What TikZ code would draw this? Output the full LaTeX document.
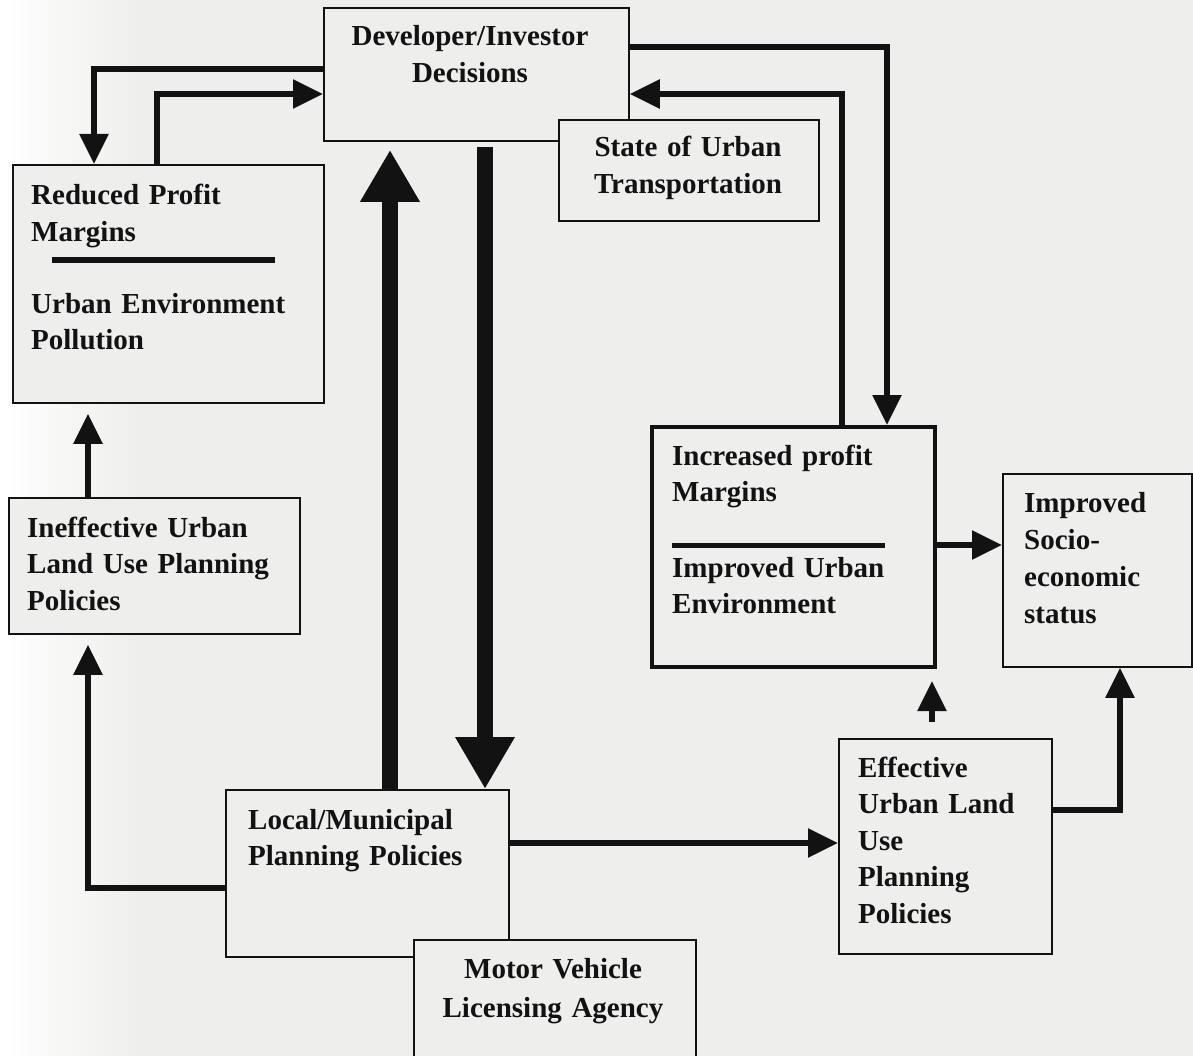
\documentclass[tikz,border=0pt]{standalone}
\usepackage{fontspec}
\setmainfont{Liberation Serif}
\usetikzlibrary{arrows.meta}
\definecolor{bgc}{RGB}{238,238,236}
\definecolor{ink}{RGB}{18,18,18}
\begin{document}
\begin{tikzpicture}[x=1pt,y=-1pt,
  box/.style={draw=ink, line width=1.8pt, fill=bgc, inner sep=0pt, rectangle, anchor=north west},
  lbl/.style={inner sep=0pt, text width=330pt, font=\bfseries\fontsize{29}{36.5}\selectfont, text=ink},
  lblc/.style={lbl, align=center, anchor=base},
  lbll/.style={lbl, align=left, anchor=base west},
  conn/.style={draw=ink, line width=5.5pt, -{Triangle[length=30pt,width=28pt]}},
  bigarrow/.style={draw=ink, line width=16pt, -{Triangle[length=52pt,width=56pt]}},
  divider/.style={draw=ink, line width=6pt}]
\useasboundingbox (0,0) rectangle (1193,1056);
\clip (0,0) rectangle (1193,1056);
\fill[bgc] (0,0) rectangle (1193,1056);
\shade[left color=white, right color=bgc] (0,0) rectangle (140,1056);

% boxes
\node[box, minimum width=305pt, minimum height=133pt] (dev) at (323,7) {};
\node[box, minimum width=260pt, minimum height=101pt] (st) at (558,119) {};
\node[box, minimum width=311pt, minimum height=238pt] (red) at (12,164) {};
\node[box, minimum width=291pt, minimum height=136pt] (ine) at (8,497) {};
\node[box, line width=4pt, minimum width=283pt, minimum height=240pt] (inc) at (650,425) {};
\node[box, minimum width=189pt, minimum height=193pt] (imp) at (1002,473) {};
\node[box, minimum width=213pt, minimum height=215pt] (eff) at (838,738) {};
\node[box, minimum width=283pt, minimum height=167pt] (loc) at (225,789) {};
\node[box, minimum width=282pt, minimum height=160pt] (mot) at (413,939) {};

% texts
\node[lblc] (devt) at (470,46) {Developer/Investor\\Decisions};
\node[lblc] (stt) at (688,157) {State of Urban\\Transportation};
\node[lbll] (redt1) at (31,205) {Reduced Profit\\Margins};
\node[lbll] (redt2) at (31,313) {Urban Environment\\Pollution};
\node[lbll] (inet) at (27,537) {Ineffective Urban\\Land Use Planning\\Policies};
\node[lbll] (inct1) at (672,465) {Increased profit\\Margins};
\node[lbll] (inct2) at (672,577) {Improved Urban\\Environment};
\node[lbll, font=\bfseries\fontsize{29}{37}\selectfont] (impt) at (1024,512) {Improved\\Socio-\\economic\\status};
\node[lbll] (efft) at (858,777) {Effective\\Urban Land\\Use\\Planning\\Policies};
\node[lbll] (loct) at (248,829) {Local/Municipal\\Planning Policies};
\node[lblc, font=\bfseries\fontsize{29}{39}\selectfont] (mott) at (553,978) {Motor Vehicle\\Licensing Agency};

% dividers
\draw[divider] (52,260) -- (275,260);
\draw[divider, line width=5pt] (672,545) -- (885,545);

% connectors
\draw[conn] (dev.west |- 0,69) -| (red.north -| 94,0);
\draw[conn] (red.north -| 157,0) |- (dev.west |- 0,94);
\draw[conn] (dev.east |- 0,47) -| (inc.north -| 887,0);
\draw[conn] (inc.north -| 842,0) |- (dev.east |- 0,94);
\draw[conn] (inc.east |- 0,545) -- (imp.west |- 0,545);
\draw[conn, shorten <=16pt, shorten >=12pt] (eff.north -| 932,0) -- (inc.south -| 932,0);
\draw[conn] (eff.east |- 0,810) -| (imp.south -| 1120,0);
\draw[conn] (loc.east |- 0,843) -- (eff.west |- 0,843);
\draw[conn, shorten >=10pt] (loc.west |- 0,888) -| (ine.south -| 88,0);
\draw[conn, shorten >=10pt] (ine.north -| 88,0) -- (red.south -| 88,0);
\draw[bigarrow, shorten >=8pt] (loc.north -| 390,0) -- (dev.south -| 390,0);
\draw[bigarrow, shorten <=5pt] (dev.south -| 485,0) -- (loc.north -| 485,0);
\end{tikzpicture}
\end{document}
